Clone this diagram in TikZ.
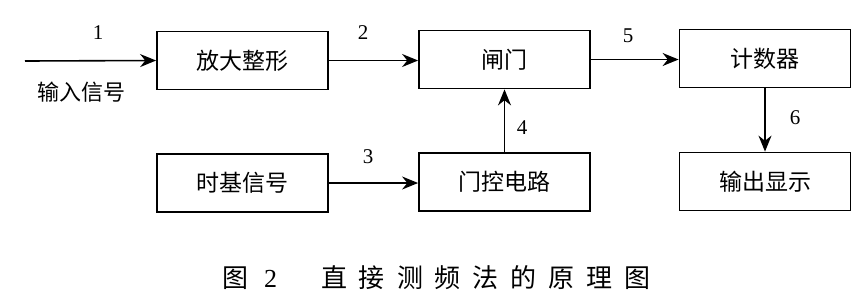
\documentclass[tikz,border=0pt]{standalone}
\usepackage{fontspec}
\setmainfont{Liberation Serif}
\newfontfamily\cjk{Noto Sans CJK SC}
\usetikzlibrary{arrows.meta}
\begin{document}
\begin{tikzpicture}[x=1pt,y=-1pt,
  blk/.style={draw, line width=1.8pt, minimum width=171pt, minimum height=58pt, inner sep=0pt, font=\cjk\fontsize{23}{23}\selectfont},
  num/.style={font=\fontsize{21}{21}\selectfont, inner sep=0pt},
  arr/.style={line width=1.6pt, -{Stealth[length=16pt,width=13pt]}}]
\useasboundingbox (0,0) rectangle (867,301);
\node[blk] (amp) at (242.5,60.5) {放大整形};
\node[blk] (gate) at (504.5,59.5) {闸门};
\node[blk] (cnt) at (765,58.5) {计数器};
\node[blk] (tb) at (242.5,183) {时基信号};
\node[blk] (ctl) at (504.5,182) {门控电路};
\node[blk] (disp) at (765,181.5) {输出显示};
\coordinate (in) at (25,61);
\draw[arr] (in) -- (amp.west);
\draw[arr] (amp.east) -- (gate.west |- amp.east);
\draw[arr] (tb.east) -- (ctl.west |- tb.east);
\draw[arr] (ctl.north) -- (gate.south);
\draw[arr] (gate.east) -- (cnt.west |- gate.east);
\draw[arr] (cnt.south) -- (disp.north);
\node[num] (n1) at (98,33) {1};
\node[num] (n2) at (363,33) {2};
\node[num] (n3) at (368,157) {3};
\node[num] (n4) at (522,128) {4};
\node[num] (n5) at (628,36) {5};
\node[num] (n6) at (795,118) {6};
\node[font=\cjk\fontsize{22}{22}\selectfont, inner sep=0pt] (inlbl) at (81,92) {输入信号};
\node[font=\cjk\fontsize{26}{26}\selectfont, inner sep=0pt] (cap) at (436.5,278)
  {图\hspace{16pt}\fontspec{Liberation Serif}2\hspace{44pt}\cjk 直\hspace{12pt}接\hspace{12pt}测\hspace{12pt}频\hspace{12pt}法\hspace{12pt}的\hspace{12pt}原\hspace{12pt}理\hspace{12pt}图};
\end{tikzpicture}
\end{document}
